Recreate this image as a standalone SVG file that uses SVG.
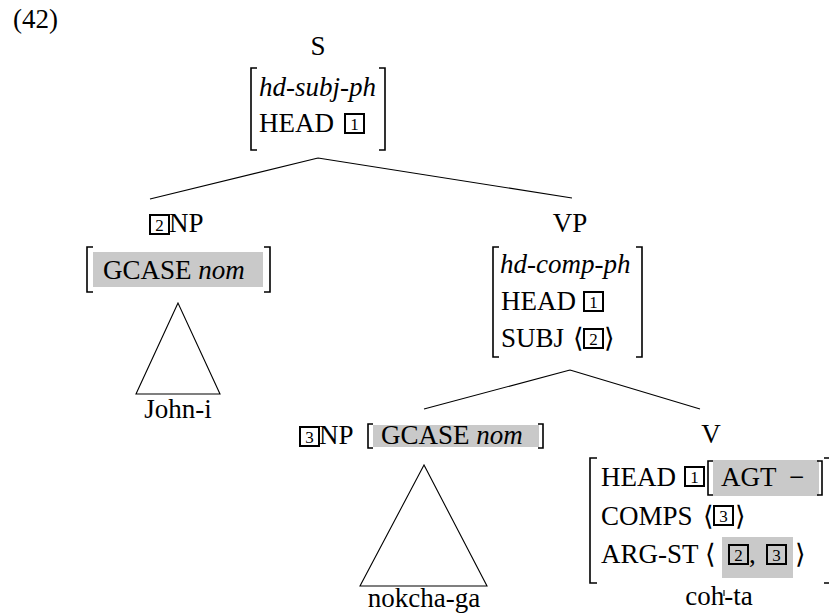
<svg xmlns="http://www.w3.org/2000/svg" width="829" height="614" viewBox="0 0 829 614">
<style>
text{font-family:"Liberation Serif","DejaVu Serif",serif;font-size:27px;fill:#000}
.it{font-style:italic}
.tag rect{fill:none;stroke:#000;stroke-width:2}
.tag text{font-size:17px;text-anchor:middle}
.mid{text-anchor:middle}
.brk{fill:none;stroke:#000;stroke-width:1.6}
.hl{fill:#c9c9c9}
.edge{stroke:#000;stroke-width:1.1;fill:none}
</style>
<defs>
<g id="b1" class="tag"><rect x="0" y="0" width="19" height="19"/><text x="9.5" y="16">1</text></g>
<g id="b2" class="tag"><rect x="0" y="0" width="19" height="19"/><text x="9.5" y="16">2</text></g>
<g id="b3" class="tag"><rect x="0" y="0" width="19" height="19"/><text x="9.5" y="16">3</text></g>
</defs>
<text x="13" y="28">(42)</text>

<g id="connectors">
<path class="edge" d="M318,158 L150,199 M318,158 L572,198"/>
<path class="edge" d="M570,370 L424,409 M570,370 L700,409"/>
<path class="edge" d="M178,303 L136,394 L220,394 Z"/>
<path class="edge" d="M424,465 L360,586 L487,586 Z"/>
<path class="edge" d="M724,590 L724,596"/>
</g>

<g id="node-S">
<text class="mid" x="318" y="55">S</text>
<path class="brk" d="M257,68 H251 V150 H257 M379,68 H385 V150 H379"/>
<text class="it" x="259" y="96">hd-subj-ph</text>
<text x="259" y="132">HEAD</text>
<use href="#b1" x="345" y="114"/>
</g>

<g id="node-NP2">
<use href="#b2" x="150" y="215"/>
<text x="169" y="232">NP</text>
<rect class="hl" x="93" y="252" width="170" height="35"/>
<path class="brk" d="M93,247 H87 V292 H93 M264,247 H270 V292 H264"/>
<text x="103" y="279">GCASE <tspan class="it">nom</tspan></text>
</g>

<g id="node-John">
<text class="mid" x="178" y="418">John-i</text>
</g>

<g id="node-VP">
<text class="mid" x="570" y="232">VP</text>
<path class="brk" d="M499,247 H493 V357 H499 M636,247 H642 V357 H636"/>
<text class="it" x="500" y="273">hd-comp-ph</text>
<text x="501" y="310">HEAD</text>
<use href="#b1" x="584" y="292"/>
<text x="501" y="347">SUBJ</text>
<text x="573" y="347">⟨</text>
<use href="#b2" x="584" y="329"/>
<text x="604" y="347">⟩</text>
</g>

<g id="node-NP3">
<use href="#b3" x="300" y="427"/>
<text x="319" y="444">NP</text>
<rect class="hl" x="373" y="425" width="166" height="22"/>
<path class="brk" d="M373,424 H368 V448 H373 M538,424 H543 V448 H538"/>
<text x="381" y="444">GCASE <tspan class="it">nom</tspan></text>
</g>

<g id="node-nokcha">
<text class="mid" x="424" y="607">nokcha-ga</text>
</g>

<g id="node-V">
<text class="mid" x="711" y="443">V</text>
<path class="brk" d="M597,458 H590 V583 H597 M824,458 H834 V583 H824"/>
<text x="601" y="486">HEAD</text>
<use href="#b1" x="685" y="467"/>
<rect class="hl" x="713" y="460" width="106" height="36"/>
<path class="brk" d="M713,461 H708 V495 H713 M817,461 H822 V495 H817"/>
<text x="721" y="486">AGT</text>
<text x="789" y="486">−</text>
<text x="601" y="525">COMPS</text>
<text x="703" y="525">⟨</text>
<use href="#b3" x="714" y="506"/>
<text x="735" y="525">⟩</text>
<text x="601" y="563">ARG-ST</text>
<text x="705" y="563">⟨</text>
<rect class="hl" x="722" y="537" width="71" height="41"/>
<use href="#b2" x="729" y="545"/>
<text x="749" y="563">,</text>
<use href="#b3" x="767" y="545"/>
<text x="795" y="563">⟩</text>
</g>

<g id="node-cohta">
<text class="mid" x="719" y="605">coh-ta</text>
</g>
</svg>
